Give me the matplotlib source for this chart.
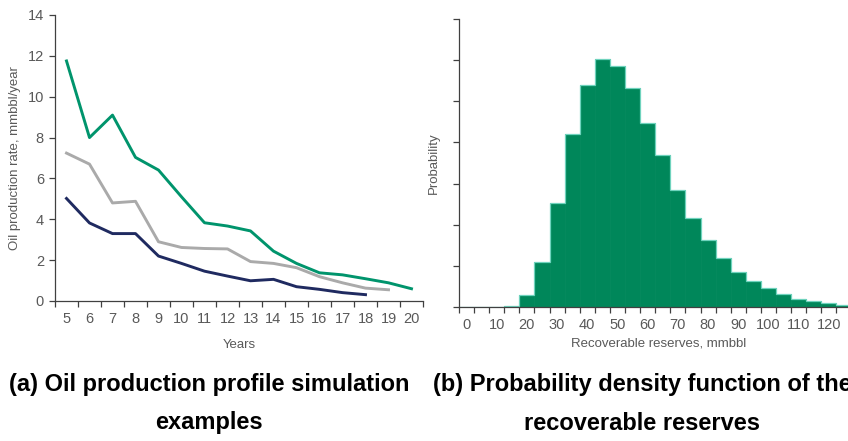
import matplotlib.pyplot as plt
import numpy as np

# production profiles, mmbbl/year, one value per year
years = list(range(5, 21))
prod_high = [11.75, 8.0, 9.1, 7.03, 6.41, 5.1, 3.83, 3.67, 3.43, 2.44, 1.84, 1.38, 1.28, 1.09, 0.89, 0.60]
prod_mid = [7.24, 6.7, 4.8, 4.88, 2.9, 2.62, 2.57, 2.55, 1.93, 1.84, 1.63, 1.19, 0.89, 0.63, 0.55]
prod_low = [5.02, 3.82, 3.3, 3.3, 2.2, 1.84, 1.46, 1.22, 0.99, 1.06, 0.70, 0.57, 0.41, 0.31]

# histogram of recoverable reserves, 5 mmbbl bins
bin_start = list(range(0, 130, 5))
bin_prob = [0, 0, 0, 0.0006, 0.0056, 0.0218, 0.0506, 0.0842, 0.108, 0.1206,
            0.117, 0.1064, 0.0894, 0.074, 0.0568, 0.0432, 0.0328, 0.0238,
            0.017, 0.0124, 0.009, 0.0064, 0.004, 0.003, 0.002, 0.0012]

green = "#00946c"
gray = "#aaaaaa"
navy = "#1f2a60"
txt = "#595959"
axc = "#404040"

plt.rcParams["font.family"] = ["Liberation Sans", "DejaVu Sans"]

fig = plt.figure(figsize=(8.48, 4.41), dpi=100)

# --- (a) production profiles ---
ax1 = fig.add_axes([55 / 848, 140 / 441, 368 / 848, 286 / 441])
idx = np.arange(len(years))
ax1.plot(idx[:len(prod_high)], prod_high, color=green, lw=2.1)
ax1.plot(idx[:len(prod_mid)], prod_mid, color=gray, lw=2.1)
ax1.plot(idx[:len(prod_low)], prod_low, color=navy, lw=2.1)
ax1.set_xlim(-0.5, len(years) - 0.5)
ax1.set_ylim(0, 14)
ax1.set_yticks(range(0, 15, 2))
ax1.set_xticks(idx)
ax1.set_xticklabels([str(y) for y in years])
ax1.set_xticks(np.arange(-0.5, len(years)), minor=True)
ax1.tick_params(axis="x", which="major", length=0, pad=8, labelsize=10.5, labelcolor=txt)
ax1.tick_params(axis="x", which="minor", length=4, color=axc, width=0.9)
ax1.tick_params(axis="y", length=4, color=axc, width=0.9, labelsize=10.5, labelcolor=txt, pad=4)
for s in ["top", "right"]:
    ax1.spines[s].set_visible(False)
for s in ["left", "bottom"]:
    ax1.spines[s].set_color(axc)
    ax1.spines[s].set_linewidth(0.9)
ax1.set_xlabel("Years", fontsize=9.5, color=txt, labelpad=9)
ax1.set_ylabel("Oil production rate, mmbbl/year", fontsize=9.5, color=txt, labelpad=5)

# --- (b) reserves distribution ---
ax2 = fig.add_axes([459 / 848, 134 / 441, 400 / 848, 288 / 441])
centers = np.array(bin_start)
ax2.bar(centers, bin_prob, width=5, color="#00875a", edgecolor="#00875a", linewidth=0.5)
edges = np.append(centers - 2.5, centers[-1] + 2.5)
ax2.stairs(bin_prob, edges, color="#6fd3bd", lw=0.9, baseline=None)
ax2.set_xlim(-2.5, 130)
ax2.set_ylim(0, 0.14)
ax2.set_yticks(np.arange(0, 0.141, 0.02))
ax2.set_yticklabels([])
ax2.set_xticks(range(0, 130, 10))
ax2.set_xticks(np.arange(-2.5, 130, 5), minor=True)
ax2.tick_params(axis="x", which="major", length=0, pad=8, labelsize=10.5, labelcolor=txt)
ax2.tick_params(axis="x", which="minor", length=4, color=axc, width=0.9)
ax2.tick_params(axis="y", length=4, color=axc, width=0.9)
for s in ["top", "right"]:
    ax2.spines[s].set_visible(False)
for s in ["left", "bottom"]:
    ax2.spines[s].set_color(axc)
    ax2.spines[s].set_linewidth(0.9)
    ax2.spines[s].set_zorder(3)
ax2.set_xlabel("Recoverable reserves, mmbbl", fontsize=9.5, color=txt, labelpad=4)
ax2.set_ylabel("Probability", fontsize=9.5, color=txt, labelpad=6)

# captions
cap = dict(ha="center", va="center", fontsize=17, fontweight="bold",
           family=["Liberation Sans Narrow", "Liberation Sans"], color="black")
fig.text(209 / 848, 1 - 384 / 441, "(a) Oil production profile simulation", **cap)
fig.text(209 / 848, 1 - 423 / 441, "examples", **cap)
fig.text(642 / 848, 1 - 384 / 441, "(b) Probability density function of the", **cap)
fig.text(642 / 848, 1 - 423 / 441, "recoverable reserves", **cap)

fig.savefig("out.png", dpi=100)
